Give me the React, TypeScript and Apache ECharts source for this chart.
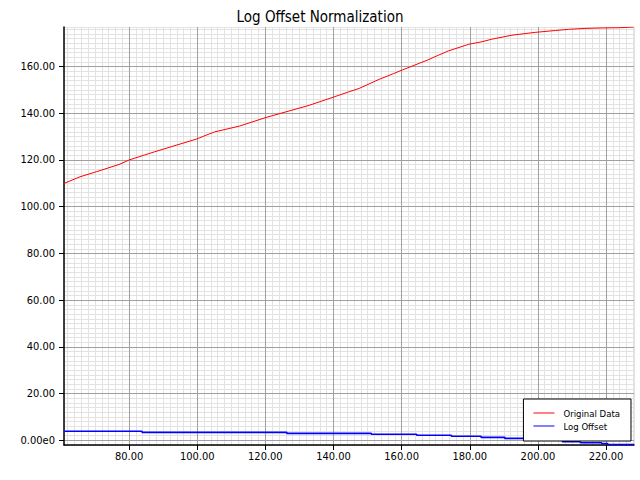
import React, { useEffect, useRef } from "react";
import * as echarts from "echarts";

const titleText = "Log Offset Normalization";
const seriesNames = ["Original Data", "Log Offset"];

const originalX = [61, 65.6, 70.5, 77.3, 80, 87.5, 92.9, 99.7, 102.6, 105.1, 112.4, 120.2, 132.9, 140.2, 144.6, 147.5, 153.4, 157.7, 160.2, 167.5, 170.9, 173.8, 179.7, 183.6, 186.5, 192.4, 199.2, 205.1, 209.0, 213.8, 219.0, 224.1, 228.1];
const originalY = [110.0, 112.8, 115.0, 118.2, 120.0, 123.5, 125.9, 128.9, 130.6, 132.0, 134.5, 138.2, 143.4, 147.0, 149.2, 150.6, 154.5, 157.0, 158.5, 162.7, 164.9, 166.7, 169.5, 170.6, 171.7, 173.4, 174.6, 175.4, 175.9, 176.3, 176.5, 176.6, 176.9];

const offsetX = [61, 83.8, 126.3, 151.1, 164.4, 174.6, 183.3, 190.3, 197.0, 202.0, 207.2, 212.5, 218.7, 220.5, 228.2];
const offsetY = [3.9, 3.45, 3.0, 2.6, 2.2, 1.75, 1.3, 0.85, 0.6, 0.15, -0.6, -1.0, -1.35, -1.75, -1.75];

const xTicks = [80, 100, 120, 140, 160, 180, 200, 220];
const yTicks = [0, 20, 40, 60, 80, 100, 120, 140, 160];

const xMin = 60.9;
const xMax = 228.2;
const yMin = -1.97;
const yMax = 176.9;

const FONT = "'DejaVu Sans Condensed', 'DejaVu Sans', sans-serif";

export default function App() {
  const ref = useRef<HTMLDivElement>(null);
  useEffect(() => {
    if (!ref.current) return;
    const chart = echarts.init(ref.current, null, { renderer: "svg" });
    const pairs = (xs: number[], ys: number[]) => xs.map((x, i) => [x, ys[i]]);
    const fmtY = (v: number) => (v === 0 ? "0.00e0" : v.toFixed(2));
    const option: any = {
      animation: false,
      backgroundColor: "#ffffff",
      title: {
        text: titleText,
        left: "center",
        top: 4,
        textStyle: { fontFamily: FONT, fontSize: 15, fontWeight: "normal", color: "#000" },
      },
      grid: { left: 64, right: 6, top: 27, bottom: 35, containLabel: false, outerBoundsMode: "none" },
      legend: {
        orient: "vertical",
        right: 9,
        top: 399,
        data: seriesNames,
        backgroundColor: "#ffffff",
        borderColor: "#000000",
        borderWidth: 1,
        borderRadius: 0,
        padding: [8, 11, 9, 10],
        itemGap: 1,
        itemWidth: 21,
        itemHeight: 1,
        icon: "rect",
        textStyle: { fontFamily: FONT, fontSize: 9.5, color: "#000", lineHeight: 12, padding: [0, 0, 0, 4] },
        z: 10,
      },
      xAxis: [
        {
          type: "value",
          min: xMin,
          max: xMax,
          minInterval: 20,
          maxInterval: 20,
          z: 3,
          axisLine: { show: true, onZero: false, lineStyle: { color: "#000", width: 1.5 } },
          axisTick: { show: true, length: 5, customValues: xTicks, lineStyle: { color: "#000" } },
          axisLabel: {
            customValues: xTicks,
            showMinLabel: true,
            showMaxLabel: true,
            margin: 6,
            fontFamily: FONT,
            fontSize: 11,
            color: "#000",
            formatter: (v: number) => v.toFixed(2),
          },
          splitLine: { show: true, lineStyle: { color: "#a0a0a0", width: 1 } },
        },
        {
          type: "value",
          min: xMin,
          max: xMax,
          minInterval: 2,
          maxInterval: 2,
          z: 1,
          axisLine: { show: false },
          axisTick: { show: false },
          axisLabel: { show: false },
          splitLine: { show: true, lineStyle: { color: "#e2e2e2", width: 1 } },
        },
      ],
      yAxis: [
        {
          type: "value",
          min: yMin,
          max: yMax,
          minInterval: 20,
          maxInterval: 20,
          z: 3,
          axisLine: { show: true, onZero: false, lineStyle: { color: "#000", width: 1.5 } },
          axisTick: { show: true, length: 5, customValues: yTicks, lineStyle: { color: "#000" } },
          axisLabel: {
            customValues: yTicks,
            showMinLabel: true,
            showMaxLabel: true,
            margin: 9,
            fontFamily: FONT,
            fontSize: 11,
            color: "#000",
            formatter: fmtY,
          },
          splitLine: { show: true, lineStyle: { color: "#a0a0a0", width: 1 } },
        },
        {
          type: "value",
          min: yMin,
          max: yMax,
          minInterval: 2,
          maxInterval: 2,
          z: 1,
          axisLine: { show: false },
          axisTick: { show: false },
          axisLabel: { show: false },
          splitLine: { show: true, lineStyle: { color: "#e2e2e2", width: 1 } },
        },
      ],
      series: [
        {
          name: seriesNames[0],
          type: "line",
          xAxisIndex: 0,
          yAxisIndex: 0,
          data: pairs(originalX, originalY),
          showSymbol: false,
          symbol: "none",
          z: 5,
          lineStyle: { color: "#ff0000", width: 1 },
          itemStyle: { color: "#ff0000" },
        },
        {
          name: seriesNames[1],
          type: "line",
          xAxisIndex: 0,
          yAxisIndex: 0,
          data: pairs(offsetX, offsetY),
          step: "end",
          showSymbol: false,
          symbol: "none",
          z: 5,
          lineStyle: { color: "#0000ff", width: 1.6 },
          itemStyle: { color: "#0000ff" },
        },
      ],
    };
    chart.setOption(option);
    return () => chart.dispose();
  }, []);
  return <div ref={ref} style={{ width: 640, height: 480, position: "absolute", left: 0, top: 0 }} />;
}
